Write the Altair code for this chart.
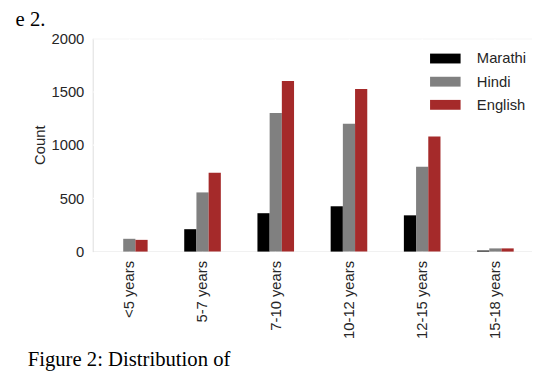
import altair as alt
import pandas as pd

categories = ["<5 years", "5-7 years", "7-10 years", "10-12 years", "12-15 years", "15-18 years"]
series = ["Marathi", "Hindi", "English"]
marathi = [0, 210, 360, 425, 340, 10]
hindi = [120, 555, 1300, 1200, 795, 30]
english = [110, 740, 1600, 1525, 1080, 30]
colors = ["#000000", "#808080", "#A52A2A"]
y_ticks = [0, 500, 1000, 1500, 2000]
caption_top = "e 2."
caption_bottom = "Figure 2: Distribution of"

rows = []
for name, vals in zip(series, [marathi, hindi, english]):
    for c, v in zip(categories, vals):
        rows.append({"category": c, "language": name, "count": v})
df = pd.DataFrame(rows)

FONT = "Liberation Sans"
TXT = "#262626"

bars = alt.Chart(df).mark_bar().encode(
    x=alt.X("category:N", sort=categories,
            scale=alt.Scale(paddingInner=0.5, paddingOuter=0.25),
            axis=alt.Axis(title=None, labelAngle=270, labelAlign="right", labelBaseline="middle",
                          labelPadding=9, labelFontSize=15, labelFont=FONT, labelColor=TXT,
                          ticks=False, tickSize=0, domain=False, grid=True, gridColor="white",
                          gridWidth=1.2, bandPosition=0.5)),
    xOffset=alt.XOffset("language:N", sort=series, scale=alt.Scale(domain=series)),
    y=alt.Y("count:Q", scale=alt.Scale(domain=[0, 2000], nice=False),
            axis=alt.Axis(title="Count", values=y_ticks, format="d", labelFontSize=15,
                          labelFont=FONT, labelColor=TXT, labelPadding=9, ticks=False, tickSize=0,
                          domain=False, grid=True, gridColor="white", gridWidth=1.2,
                          titleFont=FONT, titleFontSize=15, titleFontWeight="normal", titleColor=TXT,
                          titleAngle=270, titleX=-54, titleY=108, titleAlign="center",
                          titleBaseline="middle")),
    color=alt.Color("language:N", sort=series,
                    scale=alt.Scale(domain=series, range=colors),
                    legend=alt.Legend(orient="none", legendX=350.5, legendY=13,
                                      symbolType="M-3.1,-1H3.1V1H-3.1Z", symbolSize=100,
                                      symbolStrokeWidth=0, symbolOpacity=1,
                                      labelOffset=24.5, rowPadding=7.5, labelFontSize=15,
                                      labelFont=FONT, labelColor=TXT, title=None, padding=0)),
)

cap_top = alt.Chart(pd.DataFrame({"t": [caption_top]})).mark_text(
    font="Liberation Serif", fontSize=21, align="right", baseline="alphabetic", color="black"
).encode(text="t:N", x=alt.value(-48), y=alt.value(-13))

cap_bot = alt.Chart(pd.DataFrame({"t": [caption_bottom]})).mark_text(
    font="Liberation Serif", fontSize=21, align="left", baseline="alphabetic", color="black"
).encode(text="t:N", x=alt.value(-66), y=alt.value(333))

chart = alt.layer(bars, cap_top, cap_bot).properties(
    width=446, height=216.5,
    autosize=alt.AutoSizeParams(type="none"),
    padding={"left": 86, "top": 28, "right": 0, "bottom": 123.5},
).configure_view(fill="#EAEAF2", stroke=None).configure(background="white")

chart.save("out.html", embed_options={"renderer": "svg", "actions": False})
